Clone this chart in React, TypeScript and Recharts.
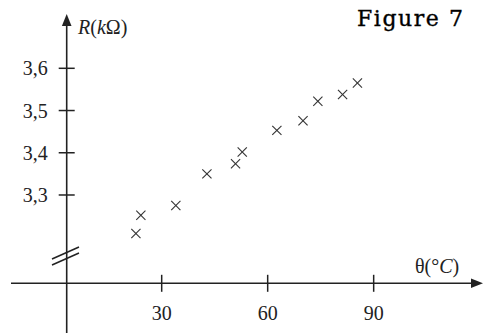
import React from 'react';
import { ScatterChart, Scatter, XAxis, YAxis, ReferenceLine } from 'recharts';

const temperature = [22.7, 24.1, 34.0, 42.8, 50.9, 52.8, 62.6, 70.0, 74.2, 81.2, 85.4];
const resistance = [3.209, 3.252, 3.275, 3.35, 3.374, 3.402, 3.453, 3.476, 3.522, 3.538, 3.565];
const xTicks = [30, 60, 90];
const yTicks = [3.3, 3.4, 3.5, 3.6];

const points = temperature.map((t, i) => ({ theta: t, r: resistance[i] }));

// pixel <-> data, chart drawn edge to edge (483 x 333)
const W = 483;
const H = 333;
const PX_PER_DEG = 3.533;
const X_ZERO = 55.7;
const PX_PER_K = 422.3;
const Y_36 = 68.3;
const tx = (px: number) => (px - X_ZERO) / PX_PER_DEG;
const ry = (py: number) => 3.6 - (py - Y_36) / PX_PER_K;

const X_DOMAIN: [number, number] = [tx(0), tx(W)];
const Y_DOMAIN: [number, number] = [ry(H), ry(0)];
const AXIS_R = ry(283.3);
const AXIS_T = tx(66.7);

const INK = '#222';
const FONT = 'Liberation Serif';

const ArrowLine = (props: any) => {
  const { x1, y1, x2, y2 } = props;
  const a = Math.atan2(y2 - y1, x2 - x1);
  const len = 12;
  const hw = 4.8;
  const bx = x2 - len * Math.cos(a);
  const by = y2 - len * Math.sin(a);
  const nx = -Math.sin(a) * hw;
  const ny = Math.cos(a) * hw;
  return (
    <g>
      <line x1={x1} y1={y1} x2={bx} y2={by} stroke={INK} strokeWidth={1.6} />
      <polygon points={`${x2},${y2} ${bx + nx},${by + ny} ${bx - nx},${by - ny}`} fill={INK} />
    </g>
  );
};

const Cross = (props: any) => {
  const { cx, cy } = props;
  const s = 4.6;
  return (
    <g stroke="#333" strokeWidth={1.1}>
      <line x1={cx - s} y1={cy - s} x2={cx + s} y2={cy + s} />
      <line x1={cx - s} y1={cy + s} x2={cx + s} y2={cy - s} />
    </g>
  );
};

export default function App() {
  const tickH = 8.5 / PX_PER_K;
  const tickW = 8 / PX_PER_DEG;
  return (
    <div style={{ position: 'absolute', left: 0, top: 0, width: W, height: H, background: '#fff', fontFamily: FONT }}>
      <ScatterChart width={W} height={H} margin={{ top: 0, right: 0, bottom: 0, left: 0 }}>
        <XAxis type="number" dataKey="theta" domain={X_DOMAIN} hide allowDataOverflow />
        <YAxis type="number" dataKey="r" domain={Y_DOMAIN} hide allowDataOverflow />

        {/* x axis */}
        <ReferenceLine
          ifOverflow="visible"
          segment={[{ x: tx(11), y: AXIS_R }, { x: tx(W), y: AXIS_R }]}
          shape={ArrowLine}
        />
        {/* y axis */}
        <ReferenceLine
          ifOverflow="visible"
          segment={[{ x: AXIS_T, y: ry(H) }, { x: AXIS_T, y: ry(14) }]}
          shape={ArrowLine}
        />

        {xTicks.map(t => (
          <ReferenceLine
            key={`x${t}`}
            ifOverflow="visible"
            segment={[{ x: t, y: AXIS_R - tickH }, { x: t, y: AXIS_R + tickH }]}
            stroke={INK}
            strokeWidth={1.5}
            label={{ value: String(t), position: 'bottom', offset: 14, fill: INK, fontSize: 20, fontFamily: FONT }}
          />
        ))}
        {yTicks.map(v => (
          <ReferenceLine
            key={`y${v}`}
            ifOverflow="visible"
            segment={[{ x: AXIS_T - tickW, y: v }, { x: AXIS_T + tickW, y: v }]}
            stroke={INK}
            strokeWidth={1.5}
            label={{ value: v.toFixed(1).replace('.', ','), position: 'left', offset: 11, fill: INK, fontSize: 20, fontFamily: FONT }}
          />
        ))}

        {/* axis break */}
        <ReferenceLine ifOverflow="visible" segment={[{ x: tx(52), y: ry(259) }, { x: tx(79), y: ry(247) }]} stroke={INK} strokeWidth={1.4} />
        <ReferenceLine ifOverflow="visible" segment={[{ x: tx(52), y: ry(265) }, { x: tx(79), y: ry(253) }]} stroke={INK} strokeWidth={1.4} />

        <Scatter data={points} shape={Cross} isAnimationActive={false} />
      </ScatterChart>

      <svg width={W} height={H} style={{ position: 'absolute', left: 0, top: 0, pointerEvents: 'none' }}>
        <text x={357} y={26} fontFamily="DejaVu Serif" fontSize={22} fill="#000" stroke="#000" strokeWidth={0.35} textLength={106} lengthAdjust="spacing">
          Figure 7
        </text>
        <text x={78} y={34} fontFamily={FONT} fontSize={20} fill={INK}>
          <tspan fontStyle="italic">R</tspan>(<tspan fontStyle="italic">k</tspan>Ω)
        </text>
        <text x={415} y={273} fontFamily={FONT} fontSize={20} fill={INK}>
          θ(°<tspan fontStyle="italic">C</tspan>)
        </text>
      </svg>
    </div>
  );
}
